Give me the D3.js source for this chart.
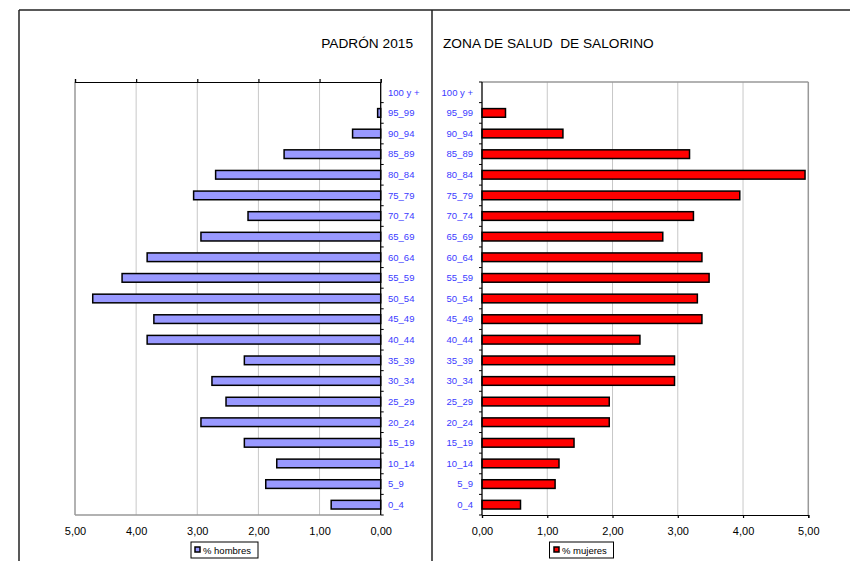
<html>
<head>
<script src="https://d3js.org/d3.v7.min.js"></script>
<style>
  body { margin: 0; background: #fff; }
  text { font-family: "Liberation Sans", Arial, sans-serif; }
</style>
</head>
<body>
<svg id="chart" width="850" height="561"></svg>
<script>
// age groups, top to bottom
var ageGroups = ["100 y +", "95_99", "90_94", "85_89", "80_84", "75_79", "70_74", "65_69",
                 "60_64", "55_59", "50_54", "45_49", "40_44", "35_39", "30_34", "25_29",
                 "20_24", "15_19", "10_14", "5_9", "0_4"];
// % hombres, same order
var hombres = [0, 0.05, 0.46, 1.58, 2.70, 3.06, 2.17, 2.94, 3.82, 4.23, 4.71, 3.71, 3.82,
               2.23, 2.76, 2.53, 2.94, 2.23, 1.70, 1.88, 0.81];
// % mujeres, same order
var mujeres = [0, 0.36, 1.24, 3.18, 4.95, 3.95, 3.24, 2.77, 3.37, 3.48, 3.30, 3.37, 2.42,
               2.95, 2.95, 1.95, 1.95, 1.41, 1.18, 1.12, 0.59];
var valueTicks = [0, 1, 2, 3, 4, 5];

var svg = d3.select("#chart");
var fmt = d3.formatLocale({decimal: ",", thousands: ".", grouping: [3], currency: ["", "€"]}).format(".2f");
var labelColor = "#3b3bff";
var top0 = 82, bottom0 = 515;

// outer frame
svg.append("line").attr("x1", 19).attr("x2", 850).attr("y1", 10).attr("y2", 10)
   .attr("stroke", "#222").attr("stroke-width", 1.5);
svg.append("line").attr("x1", 19).attr("x2", 19).attr("y1", 10).attr("y2", 561)
   .attr("stroke", "#222").attr("stroke-width", 1.5);
svg.append("line").attr("x1", 432).attr("x2", 432).attr("y1", 10).attr("y2", 561)
   .attr("stroke", "#222").attr("stroke-width", 1.5);

// titles
svg.append("text").attr("x", 413).attr("y", 48).attr("text-anchor", "end")
   .attr("font-size", "13.7px").text("PADRÓN 2015");
svg.append("text").attr("x", 443).attr("y", 48).attr("font-size", "13.7px")
   .attr("xml:space", "preserve").style("white-space", "pre")
   .text("ZONA DE SALUD  DE SALORINO");

var yBand = d3.scaleBand().domain(ageGroups).range([top0, bottom0]).paddingInner(0.58).paddingOuter(0.29);
var yStep = d3.scaleBand().domain(ageGroups).range([top0, bottom0]);

// ---------- left panel (hombres) ----------
var xLeft = d3.scaleLinear().domain([5, 0]).range([75, 380.7]);
var gL = svg.append("g");

gL.selectAll(".grid").data(valueTicks.filter(function(d) { return d > 0 && d < 5; }))
  .enter().append("line")
  .attr("x1", function(d) { return xLeft(d); }).attr("x2", function(d) { return xLeft(d); })
  .attr("y1", top0).attr("y2", bottom0).attr("stroke", "#c8c8c8").attr("stroke-width", 1);
// gray borders
gL.append("line").attr("x1", xLeft(5)).attr("x2", xLeft(5)).attr("y1", top0).attr("y2", bottom0)
  .attr("stroke", "#999").attr("stroke-width", 1.5);
gL.append("line").attr("x1", xLeft(5)).attr("x2", xLeft(0)).attr("y1", bottom0).attr("y2", bottom0)
  .attr("stroke", "#999").attr("stroke-width", 1.5);
// top axis with ticks
gL.append("g").attr("transform", "translate(0," + top0 + ")")
  .call(d3.axisTop(xLeft).tickValues(valueTicks).tickSize(3).tickFormat(""))
  .call(function(g) { g.selectAll("path,line").attr("stroke", "#000").attr("stroke-width", 1.2); });

gL.selectAll(".bar").data(hombres).enter().append("rect")
  .attr("x", function(d) { return xLeft(d); })
  .attr("y", function(d, i) { return yBand(ageGroups[i]); })
  .attr("width", function(d) { return xLeft(0) - xLeft(d); })
  .attr("height", yBand.bandwidth())
  .attr("fill", "#9999ff").attr("stroke", "#000").attr("stroke-width", 1.5)
  .style("display", function(d) { return d > 0 ? null : "none"; });

// category axis (zero line)
gL.append("line").attr("x1", xLeft(0)).attr("x2", xLeft(0)).attr("y1", top0).attr("y2", bottom0)
  .attr("stroke", "#000").attr("stroke-width", 1.3);
gL.selectAll(".ctick").data(ageGroups.slice(1).concat(["end"])).enter().append("line")
  .attr("x1", xLeft(0)).attr("x2", xLeft(0) + 3)
  .attr("y1", function(d) { return d == "end" ? bottom0 : yStep(d); })
  .attr("y2", function(d) { return d == "end" ? bottom0 : yStep(d); })
  .attr("stroke", "#000").attr("stroke-width", 1);
gL.selectAll(".clabel").data(ageGroups).enter().append("text")
  .attr("x", 388).attr("y", function(d) { return yStep(d) + yStep.bandwidth() / 2; })
  .attr("dy", "0.35em").attr("font-size", "9.5px").attr("fill", labelColor).text(function(d) { return d; });

gL.append("g").attr("transform", "translate(0," + bottom0 + ")")
  .call(d3.axisBottom(xLeft).tickValues(valueTicks).tickSize(0).tickPadding(12).tickFormat(fmt))
  .call(function(g) {
    g.select(".domain").remove();
    g.selectAll("text").attr("font-size", "11px").attr("fill", "#000")
     .attr("font-family", "Liberation Sans, Arial, sans-serif");
  });

// legend
gL.append("rect").attr("x", 191).attr("y", 542).attr("width", 67).attr("height", 16)
  .attr("fill", "#fff").attr("stroke", "#000").attr("stroke-width", 1);
gL.append("rect").attr("x", 195).attr("y", 547).attr("width", 5).attr("height", 5)
  .attr("fill", "#9999ff").attr("stroke", "#000").attr("stroke-width", 1.5);
gL.append("text").attr("x", 203).attr("y", 553.5).attr("font-size", "9.5px").text("% hombres");

// ---------- right panel (mujeres) ----------
var xRight = d3.scaleLinear().domain([0, 5]).range([482, 808.3]);
var gR = svg.append("g");

gR.selectAll(".grid").data(valueTicks.filter(function(d) { return d > 0 && d < 5; }))
  .enter().append("line")
  .attr("x1", function(d) { return xRight(d); }).attr("x2", function(d) { return xRight(d); })
  .attr("y1", top0).attr("y2", bottom0).attr("stroke", "#c8c8c8").attr("stroke-width", 1);
gR.append("line").attr("x1", xRight(0)).attr("x2", xRight(5)).attr("y1", top0).attr("y2", top0)
  .attr("stroke", "#999").attr("stroke-width", 1.5);
gR.append("line").attr("x1", xRight(5)).attr("x2", xRight(5)).attr("y1", top0).attr("y2", bottom0)
  .attr("stroke", "#999").attr("stroke-width", 1.5);

gR.selectAll(".bar").data(mujeres).enter().append("rect")
  .attr("x", xRight(0))
  .attr("y", function(d, i) { return yBand(ageGroups[i]); })
  .attr("width", function(d) { return xRight(d) - xRight(0); })
  .attr("height", yBand.bandwidth())
  .attr("fill", "#ff0000").attr("stroke", "#000").attr("stroke-width", 1.5)
  .style("display", function(d) { return d > 0 ? null : "none"; });

// bottom value axis
gR.append("g").attr("transform", "translate(0," + bottom0 + ")")
  .call(d3.axisBottom(xRight).tickValues(valueTicks).tickSize(3).tickPadding(9).tickFormat(fmt))
  .call(function(g) {
    g.selectAll("path,line").attr("stroke", "#000").attr("stroke-width", 1.2);
    g.selectAll("text").attr("font-size", "11px").attr("fill", "#000")
     .attr("font-family", "Liberation Sans, Arial, sans-serif");
  });

// category axis
gR.append("line").attr("x1", xRight(0)).attr("x2", xRight(0)).attr("y1", top0).attr("y2", bottom0)
  .attr("stroke", "#000").attr("stroke-width", 1.3);
gR.selectAll(".ctick").data(ageGroups.concat(["end"])).enter().append("line")
  .attr("x1", xRight(0) - 3).attr("x2", xRight(0))
  .attr("y1", function(d) { return d == "end" ? bottom0 : yStep(d); })
  .attr("y2", function(d) { return d == "end" ? bottom0 : yStep(d); })
  .attr("stroke", "#000").attr("stroke-width", 1);
gR.selectAll(".clabel").data(ageGroups).enter().append("text")
  .attr("x", 473).attr("y", function(d) { return yStep(d) + yStep.bandwidth() / 2; })
  .attr("dy", "0.35em").attr("text-anchor", "end").attr("font-size", "9.5px")
  .attr("fill", labelColor).text(function(d) { return d; });

// legend
gR.append("rect").attr("x", 549.5).attr("y", 542).attr("width", 64).attr("height", 16)
  .attr("fill", "#fff").attr("stroke", "#000").attr("stroke-width", 1);
gR.append("rect").attr("x", 554).attr("y", 547).attr("width", 5).attr("height", 5)
  .attr("fill", "#ff0000").attr("stroke", "#000").attr("stroke-width", 1.5);
gR.append("text").attr("x", 562).attr("y", 553.5).attr("font-size", "9.5px").text("% mujeres");
</script>
</body>
</html>
